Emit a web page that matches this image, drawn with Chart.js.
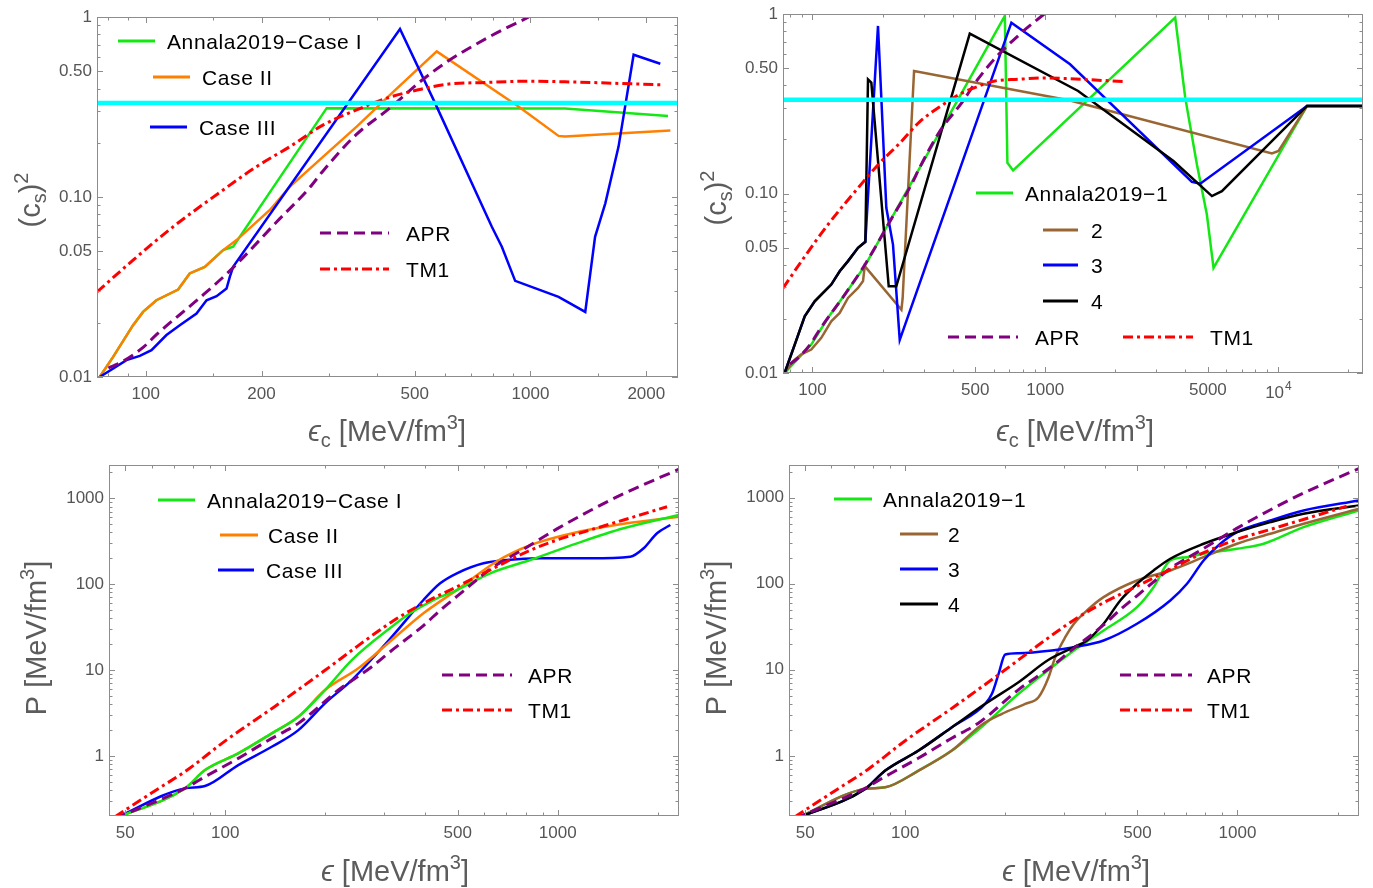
<!DOCTYPE html>
<html lang="en">
<head>
<meta charset="UTF-8">
<title>Sound speed and EOS</title>
<script src="https://cdn.jsdelivr.net/npm/chart.js@4"></script>
<style>
  body { margin: 0; background: #fff; width: 1373px; height: 888px; position: relative; overflow: hidden; }
  canvas { position: absolute; }
</style>
</head>
<body>
<canvas id="cs2Cases" width="686" height="450" style="left:0;top:0"></canvas>
<canvas id="cs2Runs" width="687" height="450" style="left:686px;top:0"></canvas>
<canvas id="eosCases" width="686" height="438" style="left:0;top:450px"></canvas>
<canvas id="eosRuns" width="687" height="438" style="left:686px;top:450px"></canvas>
<script>
const FONT = "'Liberation Sans', Arial, sans-serif";

// ---- top row: (c_s)^2 vs eps_c ----
const caseICs2 = [[75.9,0.01],[82.2,0.0129],[92.7,0.0194],[98.4,0.023],[106.6,0.0267],[121.4,0.0306],[130.1,0.0376],[142.4,0.0409],[158.9,0.0507],[168.7,0.0529],[295.3,0.3116],[1230,0.31],[2278,0.282]];
const caseIICs2 = [[75.9,0.01],[82.2,0.0129],[92.7,0.0194],[98.4,0.023],[106.6,0.0267],[121.4,0.0306],[130.1,0.0376],[142.4,0.0409],[158.9,0.0507],[172.2,0.0576],[210.2,0.0847],[237,0.1141],[289.3,0.1676],[353.4,0.2462],[431.5,0.3694],[570.6,0.6437],[930.6,0.318],[1183,0.2185],[1230,0.2166],[2310,0.2339]];
const caseIIICs2 = [[75.9,0.01],[89.1,0.0124],[96.5,0.0131],[103.5,0.0141],[113.2,0.0171],[122.6,0.0194],[135.5,0.0225],[143.9,0.0267],[152.8,0.0281],[162.2,0.031],[165.4,0.036],[168.7,0.0409],[458,0.8575],[565,0.3322],[793.5,0.0683],[842.5,0.0529],[912.5,0.0342],[1183,0.0279],[1388,0.023],[1472,0.0601],[1565,0.0922],[1694,0.1905],[1854,0.617],[2175,0.55]];

const run1Cs2 = [[75.9,0.01],[98.8,0.0144],[116.6,0.0203],[137.5,0.0273],[167.7,0.0394],[670.6,0.976],[688,0.1483],[727.8,0.1344],[3618,0.955],[3996,0.3418],[4486,0.1452],[4950,0.0764],[5287,0.0385],[13330,0.3073],[23340,0.3073]];
const run2Cs2 = [[75.9,0.01],[82.4,0.0116],[89.5,0.0127],[98.8,0.0135],[109.1,0.0157],[120.4,0.0194],[130.9,0.0216],[142.1,0.0262],[156.9,0.0298],[164.9,0.0325],[167.7,0.0394],[241,0.0225],[244,0.026],[273.2,0.4815],[1279,0.33],[9423,0.1672],[10060,0.1724],[13330,0.3073],[23340,0.3073]];
const run3Cs2 = [[75.9,0.01],[83.9,0.0144],[92.6,0.0207],[102.2,0.0251],[109.1,0.0273],[120.4,0.0311],[130.9,0.0369],[142.1,0.042],[156.9,0.0498],[168.7,0.0538],[191.2,0.858],[197.6,0.3418],[207.6,0.0832],[221.8,0.0519],[237.1,0.0153],[715.5,0.8954],[1279,0.5243],[4268,0.1162],[4634,0.1133],[13330,0.3073],[23340,0.3073]];
const run4Cs2 = [[75.9,0.01],[83.9,0.0144],[92.6,0.0207],[102.2,0.0251],[109.1,0.0273],[120.4,0.0311],[130.9,0.0369],[142.1,0.042],[156.9,0.0498],[168.7,0.0538],[173.2,0.4323],[179,0.4144],[212.6,0.0304],[229.2,0.0304],[474.1,0.7776],[1385,0.3724],[3556,0.1516],[5203,0.0967],[5744,0.1031],[13330,0.3073],[23340,0.3073]];

const aprCs2 = [[80,0.0112],[86.5,0.0121],[98.8,0.0147],[106.6,0.0172],[138.1,0.0275],[168.7,0.0405],[218.8,0.0726],[266,0.112],[289.3,0.14],[352.4,0.222],[436,0.318],[511,0.429],[600,0.555],[785,0.78],[990,1.0]];
const tm1Cs2 = [[74.7,0.0297],[92.7,0.0446],[117.8,0.0683],[158.9,0.1094],[194,0.1474],[237,0.1905],[289.3,0.2516],[353.4,0.305],[431.5,0.3588],[511,0.394],[607,0.4234],[762,0.4326],[1000,0.44],[1230,0.4365],[2198,0.42]];
const conformalCs2 = [[40,1/3],[30000,1/3]];

// ---- bottom row: P vs eps ----
const caseIP = [[46.6,0.1876],[75.6,0.4195],[86.9,0.685],[109.4,1.072],[138,1.833],[165.9,2.86],[199.5,5.854],[240.2,13.09],[316.9,31.96],[359.8,45.8],[422.8,65.4],[497.3,85.5],[626.4,133.8],[826.5,191.1],[1142.6,299],[1578,447],[2316,639]];
const caseIIP = [[46.6,0.1876],[75.6,0.4195],[86.9,0.685],[109.4,1.072],[138,1.833],[165.9,2.86],[199.5,5.854],[251.4,10.47],[316.9,22.37],[394.5,45.8],[497.3,85.5],[656.1,185],[826.5,285],[1116,395],[1578,505],[2316,610]];
const caseIIIP = [[46.6,0.1876],[75.6,0.4195],[86.9,0.4462],[109.4,0.7835],[138,1.28],[165.9,2.0],[199.5,4.1],[240.2,7.65],[316.9,24.4],[394.5,65.4],[442.9,102.3],[497.3,133.8],[597.8,175],[703,191.1],[886,200],[1253,200],[1653,208.8],[1813,261.5],[1989,391],[2181,488.7]];

const run1P = [[46.7,0.185],[75.8,0.4133],[87.1,0.4314],[109.7,0.6746],[138.2,1.152],[174.1,2.356],[219.3,5.26],[276.4,10.72],[322,16.77],[395.4,28.64],[498.3,53.45],[559.1,91.3],[627.7,186.6],[704.7,203.8],[790.7,223.3],[996.5,255.3],[1199,291.8],[1581,455],[2321,711.6]];
const run2P = [[46.7,0.185],[75.8,0.4133],[87.1,0.4314],[109.7,0.6746],[138.2,1.152],[170,2.3],[195.5,3.078],[229.7,4.024],[251.9,4.8],[270.1,8.2],[282.8,14.02],[303.1,23.93],[322,34.26],[352.4,48.94],[395.4,69.87],[498.3,109.2],[627.7,142.8],[790.7,203.8],[996.5,291.8],[1255,381.5],[1581,498.6],[2321,744.7]];
const run3P = [[46.7,0.185],[75.8,0.4133],[87.1,0.6746],[109.7,1.152],[138.2,2.15],[174.1,4.024],[182.4,5.26],[191,8.985],[200,15.06],[219.3,15.6],[276.4,16.77],[322,18.32],[395.4,21.91],[498.3,34.26],[627.7,63.94],[704.7,100],[790.7,186.6],[887.7,291.8],[996.5,398],[1255,544.5],[1581,711.6],[2321,930]];
const run4P = [[46.7,0.185],[75.8,0.4133],[87.1,0.6746],[109.7,1.152],[138.2,2.15],[174.1,4.024],[219.3,7.175],[270.1,13.07],[322,18.32],[352.4,21.91],[395.4,34.26],[443.9,63.94],[498.3,100],[559.1,142.8],[627.7,195.3],[790.7,291.8],[996.5,398],[1255,520],[1581,651.6],[2321,813.7]];

const aprP = [[46.6,0.1876],[75.6,0.4195],[86.9,0.5727],[109.4,0.9376],[138,1.603],[165.9,2.396],[218.9,5.854],[275.9,10.94],[313.2,16.35],[394.5,33],[443.9,50],[497.3,72],[559,105],[626.4,150],[788.9,255],[994.5,440],[1253,720],[1578,1130],[2316,2180]];
const tm1P = [[46.6,0.196],[60,0.37],[77.4,0.7],[100,1.5],[140,3.7],[200,10],[250,19],[322,38],[394.5,60],[497.3,93.4],[626.4,146.2],[788.9,228.8],[994.5,326.8],[1253,427.3],[1578,558.8],[2132,798]];

// ---- ticks ----
const cs2MajorY = [0.01, 0.05, 0.1, 0.5, 1];
const cs2LabelsY = ['0.01', '0.05', '0.10', '0.50', '1'];
const cs2MinorY = [0.02, 0.03, 0.04, 0.06, 0.07, 0.08, 0.09, 0.2, 0.3, 0.4, 0.6, 0.7, 0.8, 0.9];
const casesMajorX = [100, 200, 500, 1000, 2000];
const casesLabelsX = ['100', '200', '500', '1000', '2000'];
const casesMinorX = [80, 90, 150, 300, 400, 600, 700, 800, 900, 1500];
const runsMajorX = [100, 500, 1000, 5000, 10000];
const runsLabelsX = ['100', '500', '1000', '5000', '10^4'];
const runsMinorX = [80, 90, 200, 300, 400, 600, 700, 800, 900, 2000, 3000, 4000, 6000, 7000, 8000, 9000, 20000];
const eosMajorX = [50, 100, 500, 1000];
const eosLabelsX = ['50', '100', '500', '1000'];
const eosMinorX = [60, 70, 80, 90, 200, 300, 400, 600, 700, 800, 900, 2000];
const eosMajorY = [1, 10, 100, 1000];
const eosLabelsY = ['1', '10', '100', '1000'];
const eosMinorY = [0.3, 0.4, 0.5, 0.6, 0.7, 0.8, 0.9, 2, 3, 4, 5, 6, 7, 8, 9, 20, 30, 40, 50, 60, 70, 80, 90, 200, 300, 400, 500, 600, 700, 800, 900, 2000];

const GREEN = 'rgb(20,232,20)', ORANGE = '#ff8000', BLUE = '#0000ff', BROWN = '#996633',
      PURPLE = '#800080', RED = '#ff0000', CYAN = '#00ffff', BLACK = '#000000';
const TICK_COLOR = '#555';

function line(label, pts, color, extra) {
  return Object.assign({
    label, data: pts.map(([x, y]) => ({ x, y })),
    borderColor: color, borderWidth: 2.5, pointRadius: 0, showLine: true, fill: false, tension: 0
  }, extra || {});
}
const apr = pts => line('APR', pts, PURPLE, { borderWidth: 3, borderDash: [11, 6], cubicInterpolationMode: 'monotone' });
const tm1 = pts => line('TM1', pts, RED, { borderWidth: 3, borderDash: [10, 4, 3, 4], cubicInterpolationMode: 'monotone' });
const smooth = { cubicInterpolationMode: 'monotone' };

function axis(a, dir) {
  return {
    type: 'logarithmic', min: a.min, max: a.max,
    grid: { display: false, drawTicks: false }, border: { display: false },
    afterBuildTicks: s => { s.ticks = a.major.map(v => ({ value: v })); },
    afterFit: s => {
      if (dir === 'x') s.height = a.size; else s.width = a.size;
      s.paddingLeft = s.paddingRight = s.paddingTop = s.paddingBottom = 0;
    },
    ticks: {
      autoSkip: false, maxRotation: 0, padding: dir === 'x' ? 7 : 5,
      color: TICK_COLOR, font: { family: FONT, size: 17 },
      // powers like "10^4" are drawn by the deco plugin with a real superscript
      callback: (v, i) => a.labels[i].includes('^') ? '' : a.labels[i]
    }
  };
}

function drawRich(ctx, parts, size, cx, base, color) {
  const fontFor = k => (k === 'it' ? 'italic ' : '') +
    Math.round(k === 'sub' || k === 'sup' ? size * 0.68 : size) + 'px ' + FONT;
  let w = 0;
  parts.forEach(([t, k]) => { ctx.font = fontFor(k); w += ctx.measureText(t).width; });
  let x = cx - w / 2;
  ctx.fillStyle = color; ctx.textBaseline = 'alphabetic'; ctx.textAlign = 'left';
  parts.forEach(([t, k]) => {
    ctx.font = fontFor(k);
    const dy = k === 'sub' ? size * 0.22 : k === 'sup' ? -size * 0.42 : 0;
    ctx.fillText(t, x, base + dy);
    x += ctx.measureText(t).width;
  });
}

// frame with inward ticks, legend and axis titles
const deco = {
  id: 'deco',
  afterDraw(chart, args, o) {
    const { ctx, chartArea: a, scales: { x, y } } = chart;
    ctx.save();
    ctx.strokeStyle = '#8c8c8c';
    ctx.lineWidth = 1;
    ctx.strokeRect(Math.round(a.left) + 0.5, Math.round(a.top) + 0.5,
      Math.round(a.right - a.left) - 1, Math.round(a.bottom - a.top) - 1);
    ctx.beginPath();
    const xs = [[x.ticks.map(t => t.value), 6], [o.xMinor, 3.5]];
    const ys = [[y.ticks.map(t => t.value), 6], [o.yMinor, 3.5]];
    xs.forEach(([vals, len]) => vals.forEach(v => {
      if (v < x.min || v > x.max) return;
      const p = Math.round(x.getPixelForValue(v)) + 0.5;
      ctx.moveTo(p, a.bottom); ctx.lineTo(p, a.bottom - len);
      ctx.moveTo(p, a.top); ctx.lineTo(p, a.top + len);
    }));
    ys.forEach(([vals, len]) => vals.forEach(v => {
      if (v < y.min || v > y.max) return;
      const p = Math.round(y.getPixelForValue(v)) + 0.5;
      ctx.moveTo(a.left, p); ctx.lineTo(a.left + len, p);
      ctx.moveTo(a.right, p); ctx.lineTo(a.right - len, p);
    }));
    ctx.stroke();

    // power-of-ten tick labels
    (o.xLabels || []).forEach((lab, i) => {
      if (!lab.includes('^')) return;
      const [b, e] = lab.split('^');
      const px = x.getPixelForValue(x.ticks[i].value);
      ctx.font = '17px ' + FONT;
      const wb = ctx.measureText(b).width;
      ctx.font = '12px ' + FONT;
      const we = ctx.measureText(e).width;
      const x0 = px - (wb + we) / 2;
      ctx.fillStyle = TICK_COLOR;
      ctx.textAlign = 'left';
      ctx.textBaseline = 'alphabetic';
      ctx.font = '17px ' + FONT;
      ctx.fillText(b, x0, a.bottom + 25);
      ctx.font = '12px ' + FONT;
      ctx.fillText(e, x0 + wb + 1, a.bottom + 17);
    });

    // legend
    o.legend.forEach(it => {
      const ds = chart.data.datasets[it.ds];
      ctx.strokeStyle = ds.borderColor;
      ctx.lineWidth = 3;
      ctx.setLineDash(ds.borderDash || []);
      ctx.beginPath();
      ctx.moveTo(it.x1, it.y); ctx.lineTo(it.x2, it.y);
      ctx.stroke();
      ctx.setLineDash([]);
      ctx.fillStyle = '#000';
      ctx.font = '21px ' + FONT;
      ctx.letterSpacing = '0.6px';
      ctx.textAlign = 'left';
      ctx.textBaseline = 'alphabetic';
      ctx.fillText(ds.label, it.tx, it.y + 7.5);
      ctx.letterSpacing = '0px';
    });

    // axis titles
    drawRich(ctx, o.xTitle, 29, o.xTitleAt[0], o.xTitleAt[1], '#5c5c5c');
    ctx.translate(o.yTitleAt[0], o.yTitleAt[1]);
    ctx.rotate(-Math.PI / 2);
    drawRich(ctx, o.yTitle, 29, 0, 0, '#5c5c5c');
    ctx.restore();
  }
};

function makePanel(id, p) {
  p.deco.xLabels = p.x.labels;
  return new Chart(document.getElementById(id), {
    type: 'scatter',
    data: { datasets: p.datasets },
    options: {
      responsive: false, animation: false, events: [],
      layout: { padding: { left: 0, top: p.top, right: p.right, bottom: 0 } },
      plugins: { legend: { display: false }, tooltip: { enabled: false }, deco: p.deco },
      scales: { x: axis(p.x, 'x'), y: axis(p.y, 'y') }
    },
    plugins: [deco]
  });
}

const cs2Title = [['(', ''], ['c', ''], ['s', 'sub'], [')', ''], ['2', 'sup']];
const epsCTitle = [['\u03f5', 'it'], ['c', 'sub'], [' [MeV/fm', ''], ['3', 'sup'], [']', '']];
const epsTitle = [['\u03f5', 'it'], [' [MeV/fm', ''], ['3', 'sup'], [']', '']];
const pTitle = [['P [MeV/fm', ''], ['3', 'sup'], [']', '']];

makePanel('cs2Cases', {
  top: 17, right: 8,
  x: { min: 74.7, max: 2418, major: casesMajorX, labels: casesLabelsX, size: 73 },
  y: { min: 0.01, max: 1, major: cs2MajorY, labels: cs2LabelsY, size: 97 },
  datasets: [
    line('', conformalCs2, CYAN, { borderWidth: 4.5 }),
    tm1(tm1Cs2),
    apr(aprCs2),
    line('Case III', caseIIICs2, BLUE),
    line('Case II', caseIICs2, ORANGE),
    line('Annala2019\u2212Case I', caseICs2, GREEN)
  ],
  deco: {
    xMinor: casesMinorX, yMinor: cs2MinorY,
    legend: [
      { ds: 5, x1: 118, x2: 155, y: 41, tx: 167 },
      { ds: 4, x1: 153, x2: 190, y: 77, tx: 202 },
      { ds: 3, x1: 150, x2: 187, y: 127, tx: 199 },
      { ds: 2, x1: 320, x2: 389, y: 233, tx: 406 },
      { ds: 1, x1: 320, x2: 389, y: 269, tx: 406 }
    ],
    xTitle: epsCTitle, xTitleAt: [387, 441],
    yTitle: cs2Title, yTitleAt: [40, 200]
  }
});

makePanel('cs2Runs', {
  top: 14, right: 10,
  x: { min: 74.7, max: 23200, major: runsMajorX, labels: runsLabelsX, size: 77 },
  y: { min: 0.01, max: 1, major: cs2MajorY, labels: cs2LabelsY, size: 97 },
  datasets: [
    line('', conformalCs2, CYAN, { borderWidth: 4.5 }),
    tm1(tm1Cs2),
    apr(aprCs2),
    line('4', run4Cs2, BLACK),
    line('3', run3Cs2, BLUE),
    line('2', run2Cs2, BROWN),
    line('Annala2019\u22121', run1Cs2, GREEN)
  ],
  deco: {
    xMinor: runsMinorX, yMinor: cs2MinorY,
    legend: [
      { ds: 6, x1: 290, x2: 327, y: 193, tx: 339 },
      { ds: 5, x1: 357, x2: 392, y: 230, tx: 405 },
      { ds: 4, x1: 357, x2: 392, y: 265, tx: 405 },
      { ds: 3, x1: 357, x2: 392, y: 301, tx: 405 },
      { ds: 2, x1: 262, x2: 332, y: 337, tx: 349 },
      { ds: 1, x1: 437, x2: 507, y: 337, tx: 524 }
    ],
    xTitle: epsCTitle, xTitleAt: [389, 441],
    yTitle: cs2Title, yTitleAt: [40, 198]
  }
});

makePanel('eosCases', {
  top: 15, right: 7,
  x: { min: 44.7, max: 2316, major: eosMajorX, labels: eosLabelsX, size: 72 },
  y: { min: 0.2, max: 2440, major: eosMajorY, labels: eosLabelsY, size: 109 },
  datasets: [
    tm1(tm1P),
    apr(aprP),
    line('Annala2019\u2212Case I', caseIP, GREEN, smooth),
    line('Case II', caseIIP, ORANGE, smooth),
    line('Case III', caseIIIP, BLUE, smooth)
  ],
  deco: {
    xMinor: eosMinorX, yMinor: eosMinorY,
    legend: [
      { ds: 2, x1: 158, x2: 195, y: 50, tx: 207 },
      { ds: 3, x1: 220, x2: 258, y: 85, tx: 268 },
      { ds: 4, x1: 218, x2: 254, y: 120, tx: 266 },
      { ds: 1, x1: 442, x2: 512, y: 225, tx: 528 },
      { ds: 0, x1: 442, x2: 512, y: 260, tx: 528 }
    ],
    xTitle: epsTitle, xTitleAt: [395, 431],
    yTitle: pTitle, yTitleAt: [46, 188]
  }
});

makePanel('eosRuns', {
  top: 15, right: 14,
  x: { min: 44.7, max: 2321, major: eosMajorX, labels: eosLabelsX, size: 72 },
  y: { min: 0.2, max: 2400, major: eosMajorY, labels: eosLabelsY, size: 103 },
  datasets: [
    tm1(tm1P),
    apr(aprP),
    line('4', run4P, BLACK, smooth),
    line('3', run3P, BLUE, smooth),
    line('2', run2P, BROWN, smooth),
    line('Annala2019\u22121', run1P, GREEN, smooth)
  ],
  deco: {
    xMinor: eosMinorX, yMinor: eosMinorY,
    legend: [
      { ds: 5, x1: 148, x2: 186, y: 49, tx: 197 },
      { ds: 4, x1: 214, x2: 252, y: 84, tx: 262 },
      { ds: 3, x1: 214, x2: 252, y: 119, tx: 262 },
      { ds: 2, x1: 214, x2: 252, y: 154, tx: 262 },
      { ds: 1, x1: 434, x2: 506, y: 225, tx: 521 },
      { ds: 0, x1: 434, x2: 506, y: 260, tx: 521 }
    ],
    xTitle: epsTitle, xTitleAt: [390, 431],
    yTitle: pTitle, yTitleAt: [40, 188]
  }
});
</script>
</body>
</html>
